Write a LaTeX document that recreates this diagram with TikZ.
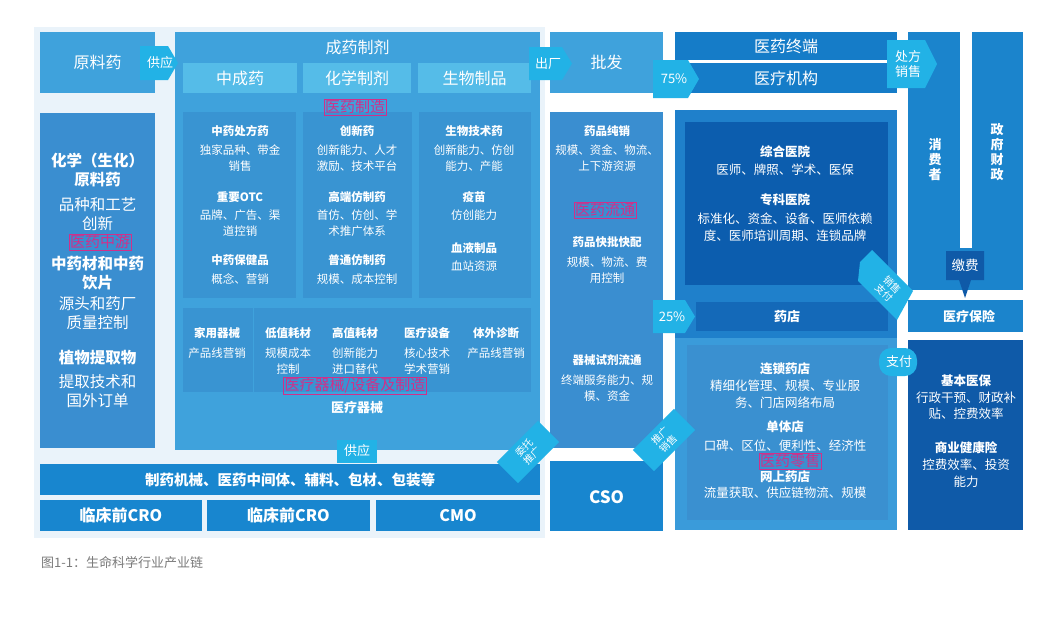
\documentclass[tikz,border=0pt]{standalone}
\usepackage{fontspec}
\setmainfont{Noto Sans CJK SC}
\usetikzlibrary{shapes.geometric}
\definecolor{gapc}{HTML}{EAF3FA}
\definecolor{lightb}{HTML}{3FA2DC}
\definecolor{tabc}{HTML}{55BCE8}
\definecolor{panelc}{HTML}{3994D2}
\definecolor{colc}{HTML}{3A8ED0}
\definecolor{darkb}{HTML}{157CC8}
\definecolor{hospo}{HTML}{1F80CB}
\definecolor{hospi}{HTML}{0C5DAE}
\definecolor{shopbar}{HTML}{1469B8}
\definecolor{lowc}{HTML}{3A9BDA}
\definecolor{lowi}{HTML}{3A90D0}
\definecolor{consc}{HTML}{1B84CC}
\definecolor{insc}{HTML}{0F5AA8}
\definecolor{cyanc}{HTML}{22B2E6}
\definecolor{botc}{HTML}{1886CF}
\definecolor{magc}{HTML}{D0308A}
\definecolor{capc}{HTML}{7A7A7A}
\tikzset{
  box/.style={draw=none,inner sep=0pt,outer sep=0pt,text=white,align=center},
  big/.style={text=white,font=\fontsize{16}{18}\selectfont,align=center,inner sep=0pt},
  sm/.style={text=white,font=\fontsize{11.5}{16}\selectfont,align=center,inner sep=0pt},
  smb/.style={text=white,font=\fontsize{11.5}{16}\selectfont\bfseries,align=center,inner sep=0pt},
  lc/.style={text=white,font=\fontsize{15.5}{19}\selectfont,align=center,inner sep=0pt},
  lcb/.style={text=white,font=\fontsize{15.5}{19}\selectfont\bfseries,align=center,inner sep=0pt},
  md/.style={text=white,font=\fontsize{12.5}{16.5}\selectfont,align=center,inner sep=0pt},
  mdb/.style={text=white,font=\fontsize{12.5}{16.5}\selectfont\bfseries,align=center,inner sep=0pt},
  mag/.style={text=magc,draw=magc,line width=0.6pt,font=\fontsize{15}{17}\selectfont,inner sep=1pt},
  badge/.style={fill=cyanc,draw=none},
  bt/.style={text=white,font=\fontsize{13}{15}\selectfont,align=center,inner sep=0pt},
  dt/.style={text=white,font=\fontsize{10}{11.5}\selectfont,align=center,inner sep=0pt},
}
\begin{document}
\begin{tikzpicture}[x=1pt,y=-1pt]
\useasboundingbox (0,0) rectangle (1049,619);
\fill[white] (0,0) rectangle (1049,619);
\fill[gapc] (34,27) rectangle (545,538);

% ---- left: raw materials
\node[box,fill=lightb,minimum width=115,minimum height=61] (ylyao) at (97.5,62.5) {};
\node[big] (ylyaot) at (97.5,62.5) {原料药};
\node[box,fill=colc,minimum width=115,minimum height=335] (leftcol) at (97.5,280.5) {};
\node[lcb] (l1) at (97.5,170) {化学（生化）\\原料药};
\node[lc] (l2) at (97.5,214) {品种和工艺\\创新};
\node[mag] (lm) at (100,242) {医药中游};
\node[lcb] (l3) at (97.5,273) {中药材和中药\\饮片};
\node[lc] (l4) at (97.5,313) {源头和药厂\\质量控制};
\node[lcb] (l5) at (97.5,358) {植物提取物};
\node[lc] (l6) at (97.5,391) {提取技术和\\国外订单};

% ---- middle: drug manufacturing
\node[box,fill=lightb,minimum width=365,minimum height=418] (cyzj) at (357.5,241) {};
\node[big] (cyzjt) at (357.5,47) {成药制剂};
\node[box,fill=tabc,minimum width=114,minimum height=30] (tab1) at (240,78) {};
\node[big] (tab1t) at (240,78) {中成药};
\node[box,fill=tabc,minimum width=108,minimum height=30] (tab2) at (357,78) {};
\node[big] (tab2t) at (357,78) {化学制剂};
\node[box,fill=tabc,minimum width=113,minimum height=30] (tab3) at (474.5,78) {};
\node[big] (tab3t) at (474.5,78) {生物制品};

\node[box,fill=panelc,minimum width=113,minimum height=186] (p1) at (239.5,205) {};
\node[box,fill=panelc,minimum width=109,minimum height=186] (p2) at (357.5,205) {};
\node[box,fill=panelc,minimum width=112,minimum height=186] (p3) at (475,205) {};
\node[mag] (mm1) at (355,107) {医药制造};

\node[smb] (a1) at (240,131) {中药处方药};
\node[sm]  (a2) at (240,158) {独家品种、带金\\销售};
\node[smb] (a3) at (240,197) {重要OTC};
\node[sm]  (a4) at (240,223) {品牌、广告、渠\\道控销};
\node[smb] (a5) at (240,260) {中药保健品};
\node[sm]  (a6) at (240,279) {概念、营销};

\node[smb] (b1) at (357,131) {创新药};
\node[sm]  (b2) at (357,158) {创新能力、人才\\激励、技术平台};
\node[smb] (b3) at (357,197) {高端仿制药};
\node[sm]  (b4) at (357,223) {首仿、仿创、学\\术推广体系};
\node[smb] (b5) at (357,260) {普通仿制药};
\node[sm]  (b6) at (357,279) {规模、成本控制};

\node[smb] (c1) at (474,131) {生物技术药};
\node[sm]  (c2) at (474,158) {创新能力、仿创\\能力、产能};
\node[smb] (c3) at (474,197) {疫苗};
\node[sm]  (c4) at (474,215) {仿创能力};
\node[smb] (c5) at (474,248) {血液制品};
\node[sm]  (c6) at (474,266) {血站资源};

% device row
\node[box,fill=panelc,minimum width=348,minimum height=84] (dev) at (357,350) {};
\fill[lightb] (252.5,308) rectangle (253.5,392);
\node[smb] (d1) at (217,333) {家用器械};
\node[sm]  (d1b) at (217,353) {产品线营销};
\node[smb] (d2) at (288,333) {低值耗材};
\node[sm]  (d2b) at (288,361) {规模成本\\控制};
\node[smb] (d3) at (355,333) {高值耗材};
\node[sm]  (d3b) at (355,361) {创新能力\\进口替代};
\node[smb] (d4) at (427,333) {医疗设备};
\node[sm]  (d4b) at (427,361) {核心技术\\学术营销};
\node[smb] (d5) at (496,333) {体外诊断};
\node[sm]  (d5b) at (496,353) {产品线营销};
\node[mag] (mm2) at (355,386) {医疗器械/设备及制造};
\node[text=white,font=\fontsize{13}{15}\selectfont\bfseries,inner sep=0pt] (ylqx) at (357,408) {医疗器械};

% supply arrow from raw materials
\fill[badge] (140,46) -- (168,46) -- (178,63) -- (168,80) -- (140,80) -- cycle;
\node[bt] (gy1) at (160,63) {供应};
% bottom supply tab
\node[box,fill=cyanc,minimum width=40,minimum height=23] (gy2) at (357,451) {};
\node[bt] (gy2t) at (357,451) {供应};

% ---- bottom rows
\node[box,fill=botc,minimum width=500,minimum height=31] (bot) at (290,479.5) {};
\node[text=white,font=\fontsize{14.5}{16}\selectfont\bfseries,inner sep=0pt] (bott) at (290,479.5) {制药机械、医药中间体、辅料、包材、包装等};
\node[box,fill=botc,minimum width=162,minimum height=31] (cro1) at (121,515.5) {};
\node[text=white,font=\fontsize{16}{18}\selectfont\bfseries,inner sep=0pt] (cro1t) at (121,515.5) {临床前CRO};
\node[box,fill=botc,minimum width=163,minimum height=31] (cro2) at (288.5,515.5) {};
\node[text=white,font=\fontsize{16}{18}\selectfont\bfseries,inner sep=0pt] (cro2t) at (288.5,515.5) {临床前CRO};
\node[box,fill=botc,minimum width=164,minimum height=31] (cmo) at (458,515.5) {};
\node[text=white,font=\fontsize{16}{18}\selectfont\bfseries,inner sep=0pt] (cmot) at (458,515.5) {CMO};

% ---- wholesale
\node[box,fill=lightb,minimum width=113,minimum height=61] (pf) at (606.5,62.5) {};
\node[big] (pft) at (606.5,62.5) {批发};
\node[box,fill=colc,minimum width=113,minimum height=336] (wcol) at (606.5,280) {};
\node[smb] (w1) at (607,131) {药品纯销};
\node[sm]  (w2) at (607,158) {规模、资金、物流、\\上下游资源};
\node[mag] (mm3) at (605,210) {医药流通};
\node[smb] (w3) at (607,242) {药品快批快配};
\node[sm]  (w4) at (607,270) {规模、物流、费\\用控制};
\node[smb] (w5) at (607,360) {器械试剂流通};
\node[sm]  (w6) at (607,388) {终端服务能力、规\\模、资金};
\node[box,fill=botc,minimum width=113,minimum height=70] (cso) at (606.5,496) {};
\node[text=white,font=\fontsize{17}{19}\selectfont\bfseries,inner sep=0pt] (csot) at (606.5,497) {CSO};

% factory arrow
\fill[badge] (529,47) -- (562,47) -- (572,63.5) -- (562,80) -- (529,80) -- cycle;
\node[bt] (cc) at (548,63.5) {出厂};

% ---- terminals
\node[box,fill=darkb,minimum width=222,minimum height=28] (zd) at (786,46) {};
\node[big] (zdt) at (786,46) {医药终端};
\node[box,fill=darkb,minimum width=222,minimum height=30] (jg) at (786,78) {};
\node[big] (jgt) at (786,78) {医疗机构};

\node[box,fill=hospo,minimum width=222,minimum height=228] (hosp) at (786,224) {};
\node[box,fill=hospi,minimum width=203,minimum height=163] (hospin) at (786.5,203.5) {};
\node[mdb] (h1) at (785,152) {综合医院};
\node[md]  (h2) at (785,170) {医师、牌照、学术、医保};
\node[mdb] (h3) at (785,200) {专科医院};
\node[md]  (h4) at (785,227) {标准化、资金、设备、医师依赖\\度、医师培训周期、连锁品牌};
\node[box,fill=shopbar,minimum width=192,minimum height=29] (yd) at (792,316.5) {};
\node[text=white,font=\fontsize{13}{15}\selectfont\bfseries,inner sep=0pt] (ydt) at (787,316.5) {药店};

\node[box,fill=lowc,minimum width=222,minimum height=192] (low) at (786,434) {};
\node[box,fill=lowi,minimum width=201,minimum height=175] (lowin) at (787.5,432.5) {};
\node[mdb] (r1) at (785,369) {连锁药店};
\node[md]  (r2) at (785,394) {精细化管理、规模、专业服\\务、门店网络布局};
\node[mdb] (r3) at (785,427) {单体店};
\node[md]  (r4) at (785,446) {口碑、区位、便利性、经济性};
\node[mag] (mm4) at (790,461) {医药零售};
\node[mdb] (r5) at (785,477) {网上药店};
\node[md]  (r6) at (785,493) {流量获取、供应链物流、规模};

% percentage arrows
\fill[badge] (653,60) -- (688,60) -- (699,79) -- (688,98) -- (653,98) -- cycle;
\node[bt] (p75) at (674,79) {75\%};
\fill[badge] (653,300) -- (685,300) -- (695,316.5) -- (685,333) -- (653,333) -- cycle;
\node[bt] (p25) at (672,316.5) {25\%};

% ---- consumers / government
\node[box,fill=consc,minimum width=52,minimum height=258] (xfz) at (934,161) {};
\node[box,fill=consc,minimum width=51,minimum height=258] (zfcz) at (997.5,161) {};
\fill[consc] (934,248) rectangle (1023,290);
\node[text=white,font=\fontsize{13}{15}\selectfont\bfseries,align=center,inner sep=0pt] (xfzt) at (935,160) {消\\费\\者};
\node[text=white,font=\fontsize{13}{15}\selectfont\bfseries,align=center,inner sep=0pt] (zfczt) at (997,152) {政\\府\\财\\政};
\fill[insc] (946,251) rectangle (984,280) -- (971,280) -- (965,298) -- (959,280) -- cycle;
\node[box,fill=insc,minimum width=38,minimum height=29] (jf) at (965,265.5) {};
\node[text=white,font=\fontsize{13.5}{15}\selectfont,inner sep=0pt] (jft) at (965,265.5) {缴费};
\node[box,fill=consc,minimum width=115,minimum height=32] (ylbx) at (965.5,316) {};
\node[text=white,font=\fontsize{13}{15}\selectfont\bfseries,inner sep=0pt] (ylbxt) at (969,316) {医疗保险};
\node[box,fill=insc,minimum width=115,minimum height=190] (ins) at (965.5,435) {};
\node[mdb] (i1) at (966,381) {基本医保};
\node[md]  (i2) at (966,406) {行政干预、财政补\\贴、控费效率};
\node[mdb] (i3) at (966,448) {商业健康险};
\node[md]  (i4) at (966,473) {控费效率、投资\\能力};

% prescription sales arrow (on top of consumer column)
\fill[badge] (887,40) -- (925,40) -- (937,64) -- (925,88) -- (887,88) -- cycle;
\node[bt] (cfxs) at (908,64) {处方\\销售};

% payment badge
\node[box,fill=cyanc,rounded corners=12pt,minimum width=38,minimum height=28] (zf) at (898,362) {};
\node[bt] (zft) at (899,362) {支付};

% diagonal badges
\node[box,fill=cyanc,minimum width=58,minimum height=30,rotate=45] (wttg) at (528,452) {};
\node[dt,rotate=45] (wttgt) at (528,452) {委托\\推广};
\node[box,fill=cyanc,minimum width=58,minimum height=30,rotate=45] (tgxs) at (664,440) {};
\node[dt,rotate=45] (tgxst) at (664,440) {推广\\销售};
\fill[badge] (860,262) -- (872,250) -- (880,258) -- (913,291) -- (897,320) -- (866,289) -- (858,281) -- cycle;
\node[dt,rotate=-45] (xszf) at (888,289) {销售\\支付};

% caption
\node[text=capc,font=\fontsize{13}{15}\selectfont,anchor=west,inner sep=0pt] (cap) at (41,563) {图1-1：生命科学行业产业链};
\end{tikzpicture}
\end{document}
